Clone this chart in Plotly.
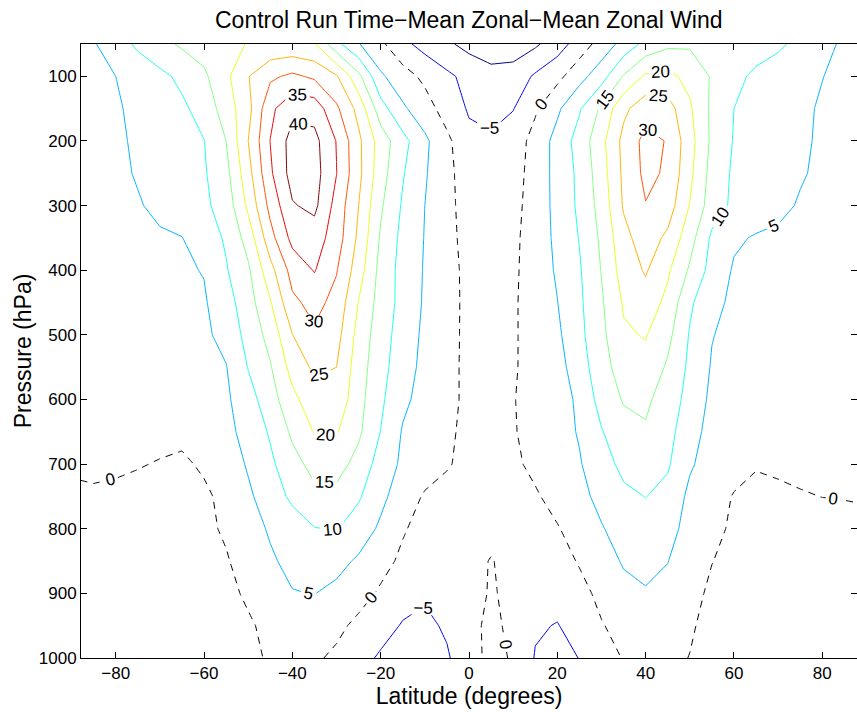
import plotly.graph_objects as go

FONT = "Liberation Sans, Arial, Helvetica, sans-serif"

# Latitude grid (degrees) and pressure levels (hPa)
lats = [-88, -85, -80, -75, -70, -65, -60, -55, -50, -45, -40, -35, -30, -25, -20, -15, -10, -5, 0,
        5, 10, 15, 20, 25, 30, 35, 40, 45, 50, 55, 60, 65, 70, 75, 80, 85, 88]
pressures = [50, 100, 150, 200, 250, 300, 350, 400, 450, 500, 550, 600, 650, 700, 750, 800, 850, 900, 950, 1000]

# Zonal-mean zonal wind (m/s), one list per pressure level
u_p50 = [3.5, 4.6, 7.7, 10.9, 13.6, 15.7, 17.2, 18.8, 20.2, 21.0, 21.2, 20.3, 11.4, 5.3, 1.0, -3.7, -6.8, -9.2, -11.5, -12.5, -12.5, -10.8, -7.3, -2.7, 2.0, 6.7, 11.5, 14.0, 14.3, 13.8, 13.0, 12.0, 10.8, 8.7, 6.4, 4.2, 3.2]
u_p100 = [3.0, 3.8, 5.0, 6.9, 8.8, 11.1, 14.1, 18.9, 24.8, 29.1, 31.0, 29.1, 25.5, 16.3, 5.8, 2.0, -1.1, -4.0, -6.5, -8.5, -8.0, -4.3, -1.4, 3.2, 7.9, 15.4, 20.8, 21.2, 18.6, 14.5, 11.2, 9.1, 7.8, 6.5, 5.1, 3.8, 3.0]
u_p150 = [2.5, 3.2, 4.5, 6.0, 7.6, 9.1, 11.9, 17.4, 23.4, 33.9, 38.5, 38.0, 30.9, 23.4, 12.1, 5.8, 2.1, -2.1, -5.5, -6.5, -5.2, -0.6, 4.1, 9.5, 15.9, 23.9, 28.0, 27.2, 20.7, 14.0, 10.0, 8.6, 7.3, 5.9, 4.5, 3.3, 2.6]
u_p200 = [2.2, 3.0, 4.2, 5.7, 7.1, 8.5, 9.9, 15.0, 25.0, 35.1, 42.0, 41.5, 34.8, 26.1, 17.7, 11.7, 6.0, 1.1, -3.8, -4.3, -2.4, 1.6, 6.8, 11.9, 18.6, 26.4, 31.5, 29.7, 21.9, 14.0, 9.7, 8.4, 7.0, 5.7, 4.4, 3.3, 2.6]
u_p250 = [2.0, 2.8, 3.9, 5.4, 6.8, 8.1, 9.5, 13.5, 23.2, 34.2, 42.0, 42.0, 35.1, 26.3, 17.1, 10.4, 5.5, 1.3, -2.5, -3.6, -2.0, 2.0, 6.6, 11.1, 17.8, 26.0, 31.2, 29.3, 21.2, 13.2, 9.2, 8.0, 6.7, 5.4, 4.2, 3.1, 2.5]
u_p300 = [1.8, 2.5, 3.5, 4.6, 6.1, 7.6, 9.1, 12.0, 21.1, 31.5, 39.6, 41.2, 33.2, 25.0, 15.7, 9.4, 5.0, 1.3, -2.0, -3.0, -1.4, 2.0, 6.5, 10.9, 16.9, 25.5, 29.8, 27.5, 19.8, 12.5, 9.0, 7.5, 6.1, 4.6, 3.6, 2.8, 2.3]
u_p350 = [1.6, 2.2, 3.0, 3.8, 4.4, 4.9, 7.5, 10.6, 17.0, 28.2, 36.5, 37.5, 32.5, 24.0, 14.4, 8.6, 4.8, 1.3, -1.5, -2.5, -1.0, 2.2, 6.1, 10.2, 15.9, 23.5, 27.5, 24.0, 17.0, 9.1, 5.7, 4.6, 4.2, 3.8, 3.2, 2.6, 2.2]
u_p400 = [1.5, 2.0, 2.7, 3.3, 3.9, 4.4, 5.2, 9.6, 14.2, 23.3, 31.9, 35.3, 30.3, 22.4, 13.3, 8.3, 4.6, 1.3, -1.0, -2.0, -0.8, 2.2, 5.6, 9.5, 15.2, 22.2, 25.5, 20.8, 14.3, 8.2, 4.5, 4.0, 3.6, 3.2, 2.7, 2.2, 1.9]
u_p450 = [1.4, 1.8, 2.4, 3.0, 3.5, 4.0, 4.5, 7.9, 12.9, 19.6, 29.0, 31.5, 28.5, 19.8, 12.9, 8.4, 4.4, 1.4, -1.0, -1.8, -0.7, 2.5, 4.9, 9.1, 14.4, 20.5, 23.0, 18.6, 10.8, 6.4, 4.0, 3.5, 3.2, 2.9, 2.5, 2.0, 1.7]
u_p500 = [1.3, 1.6, 2.2, 2.7, 3.2, 3.6, 4.1, 6.5, 11.7, 16.7, 24.9, 29.3, 26.8, 18.3, 12.2, 7.8, 4.0, 1.2, -0.9, -1.6, -0.6, 2.1, 4.1, 8.7, 13.8, 19.4, 20.3, 16.4, 9.6, 5.2, 3.6, 3.2, 2.9, 2.6, 2.3, 1.8, 1.5]
u_p550 = [1.2, 1.5, 2.0, 2.5, 2.9, 3.3, 3.8, 4.8, 10.2, 14.6, 21.8, 26.0, 25.0, 17.3, 11.7, 7.1, 3.7, 1.1, -0.9, -1.5, -0.5, 1.8, 3.2, 7.6, 13.2, 17.2, 18.5, 14.3, 9.0, 4.6, 3.3, 2.9, 2.6, 2.3, 2.0, 1.6, 1.3]
u_p600 = [1.1, 1.4, 1.8, 2.3, 2.7, 3.1, 3.5, 4.2, 8.0, 12.8, 18.7, 23.0, 23.5, 16.7, 10.9, 6.0, 3.3, 1.1, -0.9, -1.4, -0.2, 1.6, 2.6, 6.0, 11.9, 15.4, 16.0, 12.5, 8.4, 3.9, 2.9, 2.6, 2.3, 2.0, 1.7, 1.4, 1.2]
u_p650 = [1.0, 1.2, 1.4, 1.5, 1.5, 1.3, 2.2, 3.8, 6.5, 10.6, 15.9, 20.3, 20.4, 15.9, 9.9, 4.6, 2.7, 0.7, -1.0, -1.4, -0.3, 1.4, 3.0, 5.4, 9.7, 13.2, 14.4, 11.8, 6.6, 3.6, 2.6, 2.3, 2.0, 1.8, 1.5, 1.2, 1.0]
u_p700 = [0.8, 0.9, 0.8, 0.3, -0.3, -0.9, 0.8, 2.4, 5.5, 9.0, 13.4, 16.5, 17.0, 13.3, 7.9, 4.1, 2.2, 0.4, -1.3, -1.8, -0.8, 1.0, 2.9, 4.6, 8.1, 11.2, 12.0, 10.6, 5.6, 2.9, 1.2, 0.3, 0.7, 1.0, 1.1, 1.2, 1.2]
u_p750 = [-0.8, -0.6, -1.0, -1.5, -1.6, -1.5, -1.0, 1.5, 4.2, 7.4, 11.0, 13.8, 13.5, 10.6, 6.2, 2.5, -0.5, -1.5, -2.2, -2.5, -2.0, -0.5, 1.5, 3.8, 6.2, 9.0, 10.1, 8.5, 3.9, 1.4, -0.2, -1.1, -0.8, -0.3, 0.05, 0.2, 0.3]
u_p800 = [-1.5, -1.7, -2.0, -2.1, -2.0, -1.7, -1.0, 0.6, 3.2, 5.5, 7.6, 9.8, 10.3, 7.6, 4.2, 0.4, -1.5, -2.5, -2.8, -3.0, -2.8, -1.5, -0.3, 1.9, 4.7, 6.8, 7.8, 6.5, 3.5, 1.0, -0.6, -1.0, -1.2, -1.4, -1.6, -1.5, -1.2]
u_p850 = [-2.2, -2.4, -2.7, -2.8, -2.6, -2.2, -1.4, -0.4, 2.0, 4.4, 6.2, 7.3, 6.5, 4.3, 1.4, -0.8, -2.6, -3.3, -3.2, 0.5, -3.0, -3.2, -2.0, 0.4, 2.7, 5.5, 6.0, 5.1, 2.3, 0.1, -1.2, -1.7, -2.0, -2.2, -2.4, -2.6, -2.7]
u_p900 = [-2.7, -2.9, -3.2, -3.3, -3.1, -2.7, -2.0, -1.0, 0.6, 2.9, 4.8, 5.1, 3.8, 1.6, -0.6, -3.0, -4.4, -4.2, -3.5, 0.8, -2.0, -3.8, -3.5, -1.5, 1.2, 3.5, 4.7, 3.8, 1.4, -0.8, -1.8, -2.3, -2.6, -2.8, -3.0, -3.1, -3.2]
u_p950 = [-3.0, -3.2, -3.5, -3.6, -3.4, -3.0, -2.3, -1.4, -0.5, 1.0, 2.0, 2.0, 1.0, -1.0, -3.0, -5.4, -6.0, -4.4, -1.5, 1.2, -1.2, -4.5, -5.2, -3.2, -0.3, 1.6, 2.6, 2.0, 0.5, -1.3, -2.3, -2.8, -3.1, -3.3, -3.4, -3.5, -3.5]
u_p1000 = [-3.2, -3.4, -3.7, -3.8, -3.6, -3.2, -2.5, -1.6, -0.8, 0.4, 1.0, 0.6, -0.8, -3.2, -5.7, -6.5, -6.5, -5.5, -2.2, 1.5, -0.5, -5.3, -6.5, -4.9, -2.5, 0.3, 1.2, 1.0, -0.1, -1.5, -2.5, -3.0, -3.3, -3.5, -3.6, -3.7, -3.7]

wind = [u_p50, u_p100, u_p150, u_p200, u_p250, u_p300, u_p350, u_p400, u_p450, u_p500,
        u_p550, u_p600, u_p650, u_p700, u_p750, u_p800, u_p850, u_p900, u_p950, u_p1000]

levels = [-10, -5, 0, 5, 10, 15, 20, 25, 30, 35, 40]
level_colors = ["#000080", "#0000E6", "#000000", "#00B3FF", "#1AFFE6", "#80FF80",
                "#E6FF1A", "#FFB300", "#FF4D00", "#E60000", "#800000"]

x_ticks = [-80, -60, -40, -20, 0, 20, 40, 60, 80]
y_ticks = [100, 200, 300, 400, 500, 600, 700, 800, 900, 1000]

fig = go.Figure()
for lev, col in zip(levels, level_colors):
    fig.add_trace(go.Contour(
        x=lats, y=pressures, z=wind,
        autocontour=False,
        contours=dict(start=lev, end=lev, size=5, coloring="none", showlabels=True,
                      labelfont=dict(size=17, color="black", family=FONT)),
        line=dict(color=col, width=1, smoothing=0,
                  dash="7px,6px" if lev == 0 else "solid"),
        showscale=False, hoverinfo="skip", name=str(lev),
    ))

axis_common = dict(
    showline=True, linecolor="black", linewidth=1, mirror="allticks",
    ticks="inside", ticklen=6, tickcolor="black", tickwidth=1,
    showgrid=False, zeroline=False, automargin=False,
    tickfont=dict(family=FONT, size=17, color="black"),
)

fig.update_layout(
    template="none",
    width=857, height=712,
    margin=dict(l=81, r=0, t=44, b=54),
    paper_bgcolor="white", plot_bgcolor="white",
    showlegend=False,
    title=dict(text="Control Run Time\u2212Mean Zonal\u2212Mean Zonal Wind",
               x=0.547, xanchor="center", y=0.972, yanchor="middle",
               font=dict(family=FONT, size=23, color="black")),
    xaxis=dict(range=[-87.86, 87.86], tickvals=x_ticks,
               title=dict(text="Latitude (degrees)", standoff=2,
                          font=dict(family=FONT, size=23, color="black")),
               **axis_common),
    yaxis=dict(range=[1000, 50], tickvals=y_ticks,
               title=dict(text="Pressure (hPa)", standoff=0,
                          font=dict(family=FONT, size=23, color="black")),
               **axis_common),
)

fig.write_html(
    "out.html",
    config={"displayModeBar": False, "staticPlot": True},
    post_script="document.body.style.margin='0';document.body.style.padding='0';"
                "document.body.style.overflow='hidden';",
)
